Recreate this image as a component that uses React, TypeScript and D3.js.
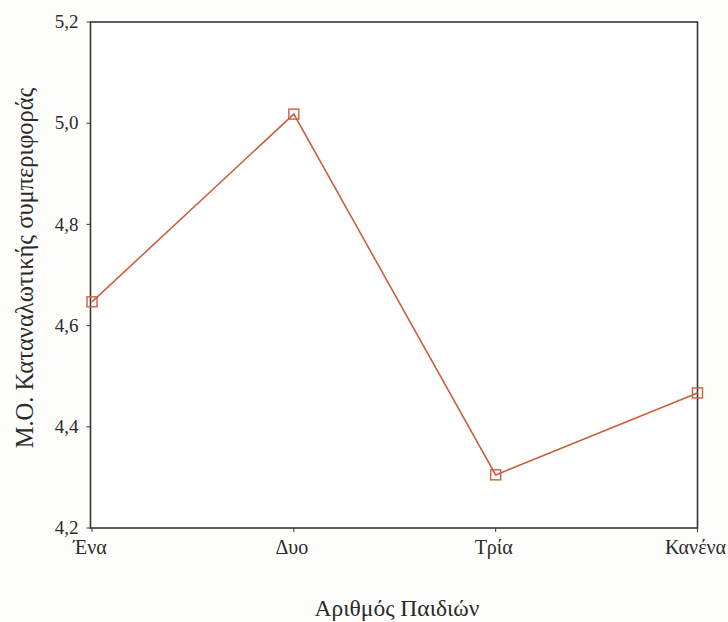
import React from "react";
import * as d3 from "d3";

const categories = ["Ένα", "Δυο", "Τρία", "Κανένα"];
const values = [4.647, 5.018, 4.305, 4.467];
const yTicks = [4.2, 4.4, 4.6, 4.8, 5.0, 5.2];
const yTitle = "Μ.Ο. Καταναλωτικής συμπεριφοράς";
const xTitle = "Αριθμός Παιδιών";

export default function App() {
  const W = 728, H = 622;
  const left = 90.5, right = 697.5, top = 22, bottom = 528;
  const x = d3.scalePoint<string>().domain(categories).range([left + 1.5, right]);
  const y = d3.scaleLinear().domain([4.2, 5.2]).range([bottom, top]);
  const line = d3.line<number>().x((_, i) => x(categories[i]) as number).y((d) => y(d));
  const color = "#c9603f";
  const font = "'Liberation Serif', 'DejaVu Serif', serif";
  const fmt = (v: number) => v.toFixed(1).replace(".", ",");
  return (
    <svg width={W} height={H} style={{ position: "absolute", left: 0, top: 0, background: "#fdfdfb" }} fontFamily={font}>
      <rect x={left} y={top} width={right - left} height={bottom - top} fill="#ffffff" stroke="#333833" strokeWidth={1.6} />
      {yTicks.map((t) => (
        <g key={t}>
          <line x1={left - 4} x2={left} y1={y(t)} y2={y(t)} stroke="#333833" strokeWidth={1} />
          <text x={left - 12} y={y(t)} dy="0.33em" textAnchor="end" fontSize={19} fill="#2a2a2a">{fmt(t)}</text>
        </g>
      ))}
      {categories.map((c) => (
        <g key={c}>
          <line x1={x(c)} x2={x(c)} y1={bottom} y2={bottom + 4} stroke="#333833" strokeWidth={1} />
          <text x={(x(c) as number) - 2} y={bottom + 26} textAnchor="middle" fontSize={20} fill="#2a2a2a">{c}</text>
        </g>
      ))}
      <path d={line(values) || ""} fill="none" stroke={color} strokeWidth={1.6} />
      {values.map((v, i) => (
        <rect key={i} x={(x(categories[i]) as number) - 5} y={y(v) - 5} width={10} height={10} fill="none" stroke={color} strokeWidth={1.4} />
      ))}
      <text transform={`translate(33,268) rotate(-90)`} textAnchor="middle" fontSize={24.5} fill="#2a2a2a">{yTitle}</text>
      <text x={397} y={616} textAnchor="middle" fontSize={23.5} fill="#2a2a2a">{xTitle}</text>
    </svg>
  );
}
